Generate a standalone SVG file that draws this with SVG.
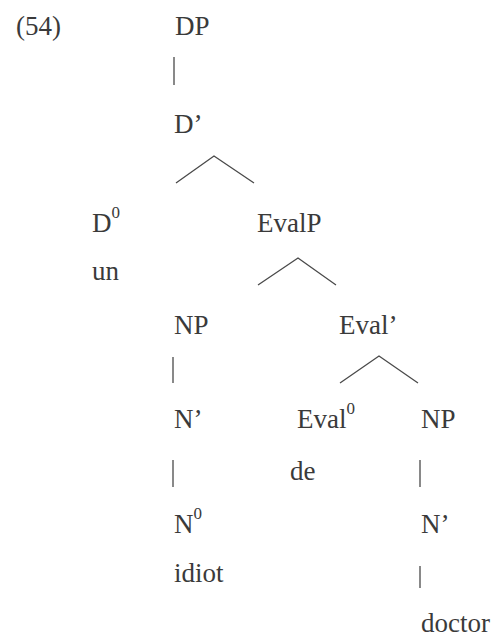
<svg xmlns="http://www.w3.org/2000/svg" width="494" height="638" viewBox="0 0 494 638">
<style>
text{font-family:"Liberation Serif","Times New Roman",serif;font-size:27px;fill:#3a3a3a}
.sup{font-size:17px}
.e{stroke:#4a4a4a;stroke-width:1.3;fill:none}
</style>
<rect width="494" height="638" fill="#ffffff"/>
<text x="16" y="35">(54)</text>
<g id="DP"><text x="175" y="35">DP</text></g>
<g id="Dbar"><text x="174" y="133">D’</text></g>
<g id="D0"><text x="92" y="232">D<tspan class="sup" dy="-14">0</tspan></text></g>
<g id="un"><text x="92" y="280">un</text></g>
<g id="EvalP"><text x="257" y="232">EvalP</text></g>
<g id="NP1"><text x="174" y="334">NP</text></g>
<g id="Evalbar"><text x="339" y="334">Eval’</text></g>
<g id="Nbar1"><text x="174" y="428">N’</text></g>
<g id="Eval0"><text x="297" y="428">Eval<tspan class="sup" dy="-14">0</tspan></text></g>
<g id="de"><text x="290" y="480">de</text></g>
<g id="NP2"><text x="421" y="428">NP</text></g>
<g id="N0"><text x="174" y="533">N<tspan class="sup" dy="-14">0</tspan></text></g>
<g id="idiot"><text x="174" y="582">idiot</text></g>
<g id="Nbar2"><text x="421" y="533">N’</text></g>
<g id="doctor"><text x="421" y="632">doctor</text></g>
<g id="connectors" class="e">
<line x1="174" y1="57" x2="174" y2="85"/>
<polyline points="176,183 214,156 254,183"/>
<polyline points="258,285 298,258 336,285"/>
<line x1="173" y1="357" x2="173" y2="383"/>
<polyline points="340,383 379,356 418,383"/>
<line x1="173" y1="460" x2="173" y2="487"/>
<line x1="420" y1="460" x2="420" y2="487"/>
<line x1="420" y1="566" x2="420" y2="588"/>
</g>
</svg>
